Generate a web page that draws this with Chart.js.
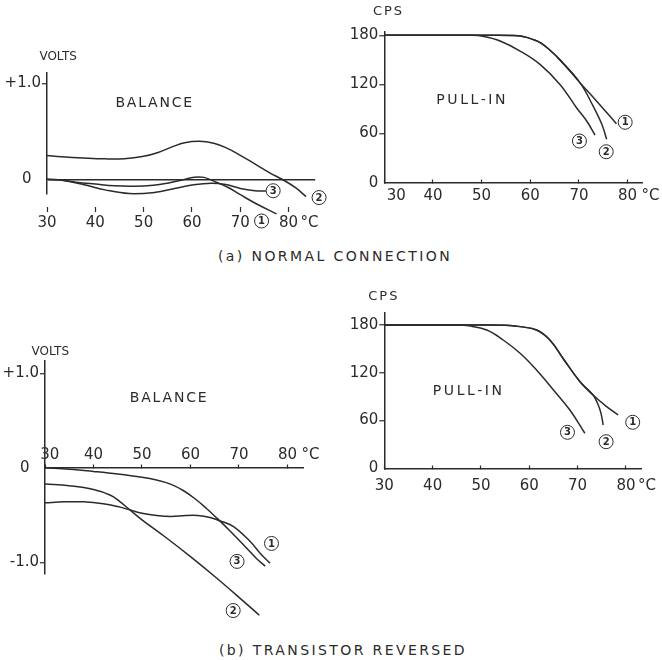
<!DOCTYPE html>
<html>
<head>
<meta charset="utf-8">
<script src="https://cdn.jsdelivr.net/npm/chart.js@4.4.1/dist/chart.umd.min.js"></script>
<style>
  body { margin: 0; background: #fff; }
  #page { position: relative; width: 662px; height: 660px; }
  canvas { position: absolute; }
  .caption {
    position: absolute; transform: translate(-50%, -50%);
    font-family: 'DejaVu Sans', sans-serif; font-size: 14px;
    letter-spacing: 2.4px; color: #2b2b2b; white-space: nowrap;
  }
</style>
</head>
<body>
<div id="page">
  <canvas id="a-balance" width="340" height="200" style="left:0;top:40px"></canvas>
  <canvas id="a-pullin" width="322" height="240" style="left:340px;top:0"></canvas>
  <div class="caption" style="left:335px;top:256px">(a) NORMAL CONNECTION</div>
  <canvas id="b-balance" width="340" height="300" style="left:0;top:330px"></canvas>
  <canvas id="b-pullin" width="322" height="240" style="left:340px;top:290px"></canvas>
  <div class="caption" style="left:343px;top:650px">(b) TRANSISTOR REVERSED</div>
</div>
<script>
const INK = '#2b2b2b';
const FONT = "'DejaVu Sans', sans-serif";

// tick values
const tempTicks = [30, 40, 50, 60, 70, 80];
const voltTicksA = [0, 1];
const voltTicksB = [-1, 0, 1];
const cpsTicks = [0, 60, 120, 180];

// (a) normal connection - balance, volts vs deg C
const balA1 = [[30,0],[33,-0.008],[36,-0.03],[40,-0.05],[44,-0.068],[48,-0.072],[52,-0.062],[55,-0.04],[58,-0.008],[60.5,0.022],[62.5,0.02],[65,-0.03],[67.5,-0.085],[70,-0.16],[73.5,-0.26],[77.5,-0.36]];
const balA2 = [[30,0.247],[33,0.235],[37.5,0.222],[42,0.213],[46,0.215],[50,0.24],[53,0.28],[56,0.34],[58.5,0.38],[61.5,0.395],[64.5,0.375],[67,0.33],[70,0.25],[73,0.16],[76,0.07],[79,-0.01],[81.5,-0.09],[83.6,-0.18]];
const balA3 = [[30,0],[33,-0.01],[37.5,-0.055],[42,-0.11],[47,-0.148],[52.5,-0.135],[56,-0.1],[60,-0.06],[64,-0.04],[67,-0.055],[70,-0.095],[73,-0.118],[75.3,-0.122]];

// (a) normal connection - pull-in, cps vs deg C
const pullA1 = [[30,180],[50,180],[56.5,179.8],[58.5,178.5],[60.5,175],[62.2,170.5],[64,162],[66.1,150],[70.2,122.2],[73.6,99.8],[77.7,72]];
const pullA2 = [[30,180],[50,180],[56.5,179.8],[58.5,178.5],[60.5,175],[62.2,170.5],[64,162],[66.1,150],[70.2,122.2],[72.9,93.7],[74.7,71.4],[75.7,53]];
const pullA3 = [[30,180],[48,180],[50.5,178.5],[53.8,173],[57.9,160.8],[62,144.5],[66.1,120],[69.5,91.6],[71.6,75.3],[73.3,58.2]];

// (b) transistor reversed - balance
const balB1 = [[30,-0.37],[34,-0.36],[38,-0.36],[42,-0.38],[45,-0.41],[47.5,-0.445],[50,-0.48],[53,-0.505],[56,-0.515],[59,-0.505],[61.5,-0.505],[64,-0.525],[66,-0.56],[68.8,-0.62],[72.3,-0.78],[74.3,-0.9],[76.4,-1.01]];
const balB2 = [[30,-0.17],[35,-0.19],[40,-0.23],[43.5,-0.29],[45.5,-0.36],[47.5,-0.445],[50,-0.55],[55,-0.74],[60,-0.94],[65,-1.15],[70,-1.37],[74.2,-1.56]];
const balB3 = [[30,0],[35,-0.015],[40,-0.038],[45,-0.065],[50,-0.1],[53,-0.13],[56,-0.175],[58.5,-0.24],[61,-0.33],[63.3,-0.43],[65.4,-0.53],[68,-0.66],[71.6,-0.85],[73.6,-0.96],[75.4,-1.04]];

// (b) transistor reversed - pull-in
const pullB1 = [[30,180],[50,180],[56,179.5],[58.1,178],[61.5,173.7],[64.3,161],[67,138],[70.5,108.8],[73.2,92],[76,77.4],[78.4,67]];
const pullB2 = [[30,180],[50,180],[56,179.5],[58.1,178],[61.5,173.7],[64.3,161],[67,138],[70.5,108.8],[73.2,92],[74.1,82],[74.8,70],[75.3,54.4]];
const pullB3 = [[30,180],[45,180],[47.5,179],[51.2,173.7],[54.6,161.2],[58.1,144.5],[61.5,123.5],[65,98.4],[68.4,73.2],[71.5,44]];

// panel headings and circled curve numbers, placed in data units
const balANotes = [['VOLTS', 32.3, 1.274], ['BALANCE', 52.1, 0.79]];
const balAMarks = [['1', 74.4, -0.434], ['2', 86.3, -0.19], ['3', 76.8, -0.119]];
const pullANotes = [['CPS', 30.66, 208.9], ['PULL-IN', 47.8, 101]];
const pullAMarks = [['1', 79.5, 73.8], ['2', 75.6, 37.8], ['3', 70.1, 50.9]];
const balBNotes = [['VOLTS', 31.1, 1.228], ['BALANCE', 55.4, 0.735]];
const balBMarks = [['1', 76.7, -0.8], ['2', 68.8, -1.51], ['3', 69.6, -0.99]];
const pullBNotes = [['CPS', 29.7, 215.2], ['PULL-IN', 47.2, 96.2]];
const pullBMarks = [['1', 81.4, 57.8], ['2', 75.9, 33.4], ['3', 67.9, 45.2]];

const NOTE_FONTS = { VOLTS: [12, 0], CPS: [13, 2], BALANCE: [14, 1.8], 'PULL-IN': [14, 2.6] };

Chart.defaults.font.family = FONT;
Chart.defaults.font.size = 15;
Chart.defaults.color = INK;

// headings, circled numbers and the trailing °C
const decor = {
  id: 'decor',
  afterDraw(chart, args, opts) {
    const { ctx, scales: { x, y } } = chart;
    ctx.save();
    ctx.fillStyle = INK;
    ctx.strokeStyle = INK;
    ctx.textAlign = 'center';
    ctx.textBaseline = 'middle';
    opts.notes.forEach(([text, vx, vy]) => {
      const [size, gap] = NOTE_FONTS[text];
      ctx.font = `${size}px ${FONT}`;
      ctx.letterSpacing = gap + 'px';
      ctx.fillText(text, x.getPixelForValue(vx) + gap / 2, y.getPixelForValue(vy));
    });
    ctx.letterSpacing = '0px';
    ctx.lineWidth = 1;
    opts.marks.forEach(([n, vx, vy]) => {
      const px = x.getPixelForValue(vx);
      const py = y.getPixelForValue(vy);
      ctx.beginPath();
      ctx.arc(px, py, 7, 0, Math.PI * 2);
      ctx.stroke();
      ctx.font = `bold 10px ${FONT}`;
      ctx.fillText(n, px, py + 0.5);
    });
    const items = x.getLabelItems();
    const last = items[items.length - 1];
    const [tx, ty] = last.options.translation;
    ctx.font = `15px ${FONT}`;
    ctx.textAlign = 'left';
    ctx.fillText('°C', tx + opts.degGap, ty + last.textOffset);
    ctx.restore();
  }
};

const drawPanel = (id, cfg) => new Chart(document.getElementById(id), {
  type: 'line',
  data: {
    datasets: cfg.series.map(pts => ({
      data: pts.map(([x, y]) => ({ x, y })),
      borderColor: INK,
      borderWidth: 1.5,
      pointRadius: 0,
      fill: false,
      clip: false,
      tension: 0.4,
      capBezierPoints: false
    }))
  },
  options: {
    responsive: false,
    animation: false,
    events: [],
    layout: { autoPadding: false, padding: cfg.padding },
    plugins: {
      legend: { display: false },
      tooltip: { enabled: false },
      decor: { notes: cfg.notes, marks: cfg.marks, degGap: cfg.degGap }
    },
    scales: {
      x: {
        type: 'linear',
        min: 30,
        max: cfg.xMax,
        position: { y: cfg.xAxisAt },
        afterBuildTicks: s => { s.ticks = tempTicks.map(value => ({ value })); },
        ticks: {
          autoSkip: false, maxRotation: 0, padding: cfg.xPad,
          callback: v => (v === 30 ? ' '.repeat(cfg.lead30) : '') + v
        },
        grid: { drawOnChartArea: false, tickLength: cfg.xTick, tickColor: INK, tickWidth: 1.2 },
        border: { display: cfg.xLine, color: INK, width: 1.5 }
      },
      y: {
        type: 'linear',
        min: cfg.yMin,
        max: cfg.yMax,
        position: 'left',
        afterBuildTicks: s => { s.ticks = cfg.yTicks.map(value => ({ value })); },
        afterFit: s => { s.width = cfg.yWidth; },
        ticks: { padding: 1, callback: cfg.yLabel },
        grid: {
          drawOnChartArea: cfg.zeroGrid,
          lineWidth: 1.5,
          tickLength: 5,
          tickWidth: 1.2,
          color: c => (c.tick && c.tick.value === 0 ? INK : 'transparent'),
          tickColor: c => (c.tick && c.tick.value !== 0 ? INK : 'transparent')
        },
        border: { color: INK, width: 1.5 }
      }
    }
  },
  plugins: [decor]
});

const voltLabel = v => (v === 0 ? '0  ' : (v > 0 ? '+' : '-') + Math.abs(v).toFixed(1));

drawPanel('a-balance', {
  series: [balA1, balA2, balA3],
  notes: balANotes, marks: balAMarks, degGap: 12,
  xMax: 85.5, yMin: -0.155, yMax: 1.11, yTicks: voltTicksA, yLabel: voltLabel,
  xAxisAt: -0.29, xTick: 5, xPad: 2, xLine: false, lead30: 0,
  yWidth: 47, zeroGrid: true,
  padding: { left: 0, top: 32.7, right: 24.8, bottom: 45.8 }
});

drawPanel('a-pullin', {
  series: [pullA1, pullA2, pullA3],
  notes: pullANotes, marks: pullAMarks, degGap: 14,
  xMax: 83, yMin: 0, yMax: 184.4, yTicks: cpsTicks, yLabel: v => String(v),
  xAxisAt: 0, xTick: -4, xPad: 8.3, xLine: true, lead30: 5,
  yWidth: 44.3, zeroGrid: false,
  padding: { left: 0, top: 31.7, right: 19.8, bottom: 57.3 }
});

drawPanel('b-balance', {
  series: [balB1, balB2, balB3],
  notes: balBNotes, marks: balBMarks, degGap: 14,
  xMax: 83.3, yMin: -1.116, yMax: 1.13, yTicks: voltTicksB, yLabel: voltLabel,
  xAxisAt: 0, xTick: -4, xPad: -17.8, xLine: true, lead30: 2,
  yWidth: 45, zeroGrid: false,
  padding: { left: 0, top: 31, right: 36.5, bottom: 56.7 }
});

drawPanel('b-pullin', {
  series: [pullB1, pullB2, pullB3],
  notes: pullBNotes, marks: pullBMarks, degGap: 12,
  xMax: 83.2, yMin: 0, yMax: 195, yTicks: cpsTicks, yLabel: v => String(v),
  xAxisAt: 0, xTick: -4, xPad: 12.7, xLine: true, lead30: 0,
  yWidth: 44.3, zeroGrid: false,
  padding: { left: 0, top: 23.1, right: 20.6, bottom: 61.7 }
});
</script>
</body>
</html>
